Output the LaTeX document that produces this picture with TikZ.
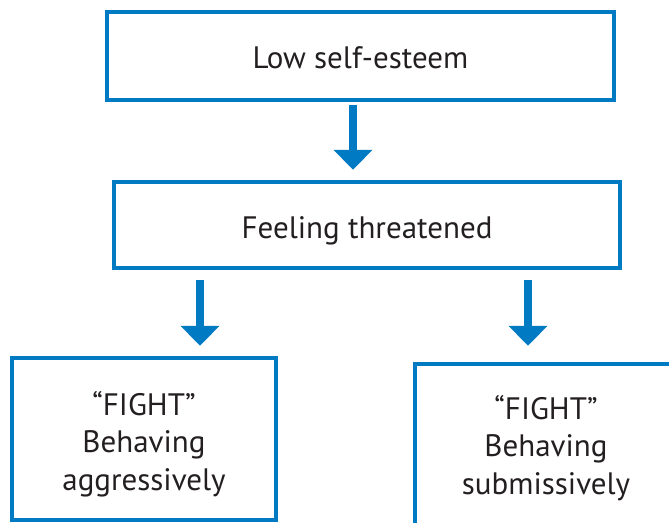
\documentclass[tikz,border=0pt]{standalone}
\usepackage{fontspec}
\setmainfont{PT Sans}
\usetikzlibrary{arrows.meta}
\definecolor{boxblue}{RGB}{0,122,194}
\definecolor{ink}{RGB}{35,31,32}
\begin{document}
\begin{tikzpicture}[x=1pt, y=-1pt,
		box/.style={draw=boxblue, line width=4.5pt, inner sep=0pt, text height=24pt, text depth=0pt, align=center, text=ink, font=\fontsize{31}{37.5}\selectfont},
		arr/.style={draw=boxblue, line width=8pt, -{Triangle[width=38pt, length=20pt]}}]
		\useasboundingbox ( 0, 0 ) rectangle ( 669, 522 );
		\clip ( 0, 0 ) rectangle ( 669, 522 );

		% блоки
		\node [box, minimum width=507pt, minimum height=88pt] (low) at ( 360.5, 56 ) {Low self-esteem};
		\node [box, minimum width=506pt, minimum height=86pt, text height=26pt] (threat) at ( 367, 225 ) {Feeling threatened};
		\node [box, minimum width=264pt, minimum height=162pt, text height=102pt] (fighta) at ( 144, 439 ) {``FIGHT''\\Behaving\\aggressively};
		\node [box, minimum width=262pt, minimum height=162pt, text height=98pt] (fightb) at ( 546, 445 ) {``FIGHT''\\Behaving\\submissively};

		% стрелки
		\coordinate (c1) at ( 353, 0 );
		\coordinate (c2) at ( 200, 0 );
		\coordinate (c3) at ( 528, 0 );
		\draw [arr, shorten <=2.25pt, shorten >=10pt] (low.south -| c1) -- (threat.north -| c1);
		\draw [arr, shorten <=10pt, shorten >=10pt] (threat.south -| c2) -- (fighta.north -| c2);
		\draw [arr, shorten <=10pt, shorten >=16pt] (threat.south -| c3) -- (fightb.north -| c3);
	\end{tikzpicture}
\end{document}
